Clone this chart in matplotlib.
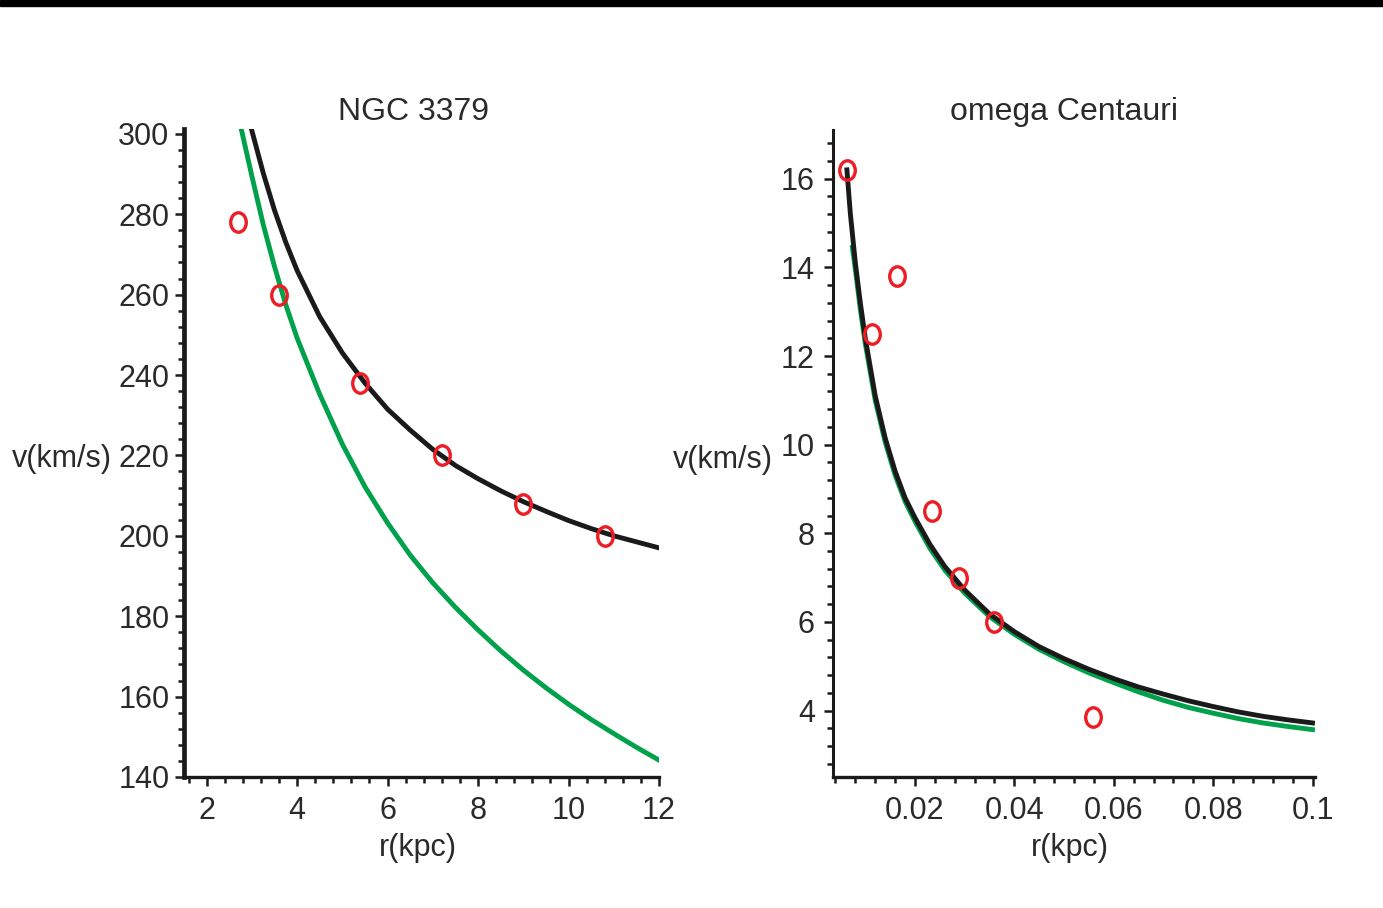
import matplotlib
matplotlib.use("Agg")
import matplotlib.pyplot as plt
from matplotlib.ticker import MultipleLocator, FuncFormatter
from matplotlib.path import Path
from matplotlib.transforms import Affine2D
from matplotlib.patches import Rectangle

plt.rcParams['font.family'] = ['Liberation Sans', 'DejaVu Sans']

# ---- NGC 3379 (left panel) ----
ngc_r_obs = [2.7, 3.6, 5.4, 7.2, 9.0, 10.8]
ngc_v_obs = [278, 260, 238, 220, 208, 200]

ngc_r_black = [3.0, 3.25, 3.5, 3.75, 4.0, 4.5, 5.0, 5.5, 6.0, 6.5, 7.0, 7.5,
               8.0, 8.5, 9.0, 9.5, 10.0, 10.5, 11.0, 11.5, 12.0]
ngc_v_black = [300.8, 290.3, 281, 273, 266, 254.5, 245.5, 238, 231.5, 226.3,
               221.5, 217.5, 214.2, 211.2, 208.5, 206.1, 203.8, 201.8, 200.0,
               198.5, 197.0]

ngc_r_green = [2.77, 3.0, 3.25, 3.5, 3.75, 4.0, 4.5, 5.0, 5.5, 6.0, 6.5, 7.0,
               7.5, 8.0, 8.5, 9.0, 9.5, 10.0, 10.5, 11.0, 11.5, 12.0]
ngc_v_green = [301, 289.5, 277.5, 267, 257.5, 249.2, 235.2, 222.8, 212.2, 203.2,
               195.2, 188.3, 182.2, 176.6, 171.4, 166.6, 162.2, 158.1, 154.3,
               150.8, 147.4, 144.2]

# ---- omega Centauri (right panel) ----
oc_r_obs = [0.0064, 0.0113, 0.0164, 0.0234, 0.0289, 0.0360, 0.0559]
oc_v_obs = [16.2, 12.5, 13.8, 8.5, 7.0, 6.0, 3.85]

oc_r_black = [0.0063, 0.007, 0.008, 0.009, 0.010, 0.012, 0.014, 0.016, 0.018,
              0.020, 0.023, 0.026, 0.030, 0.035, 0.040, 0.045, 0.050, 0.055,
              0.060, 0.065, 0.070, 0.075, 0.080, 0.085, 0.090, 0.095, 0.100]
oc_v_black = [16.2, 15.2, 14.1, 13.2, 12.4, 11.1, 10.15, 9.4, 8.8, 8.35, 7.75,
              7.25, 6.72, 6.18, 5.78, 5.44, 5.17, 4.93, 4.72, 4.53, 4.37, 4.22,
              4.09, 3.97, 3.87, 3.79, 3.72]

oc_r_green = [0.0074, 0.008, 0.009, 0.010, 0.012, 0.014, 0.016, 0.018, 0.020,
              0.023, 0.026, 0.030, 0.035, 0.040, 0.045, 0.050, 0.055, 0.060,
              0.065, 0.070, 0.075, 0.080, 0.085, 0.090, 0.095, 0.100]
oc_v_green = [14.45, 13.95, 13.05, 12.28, 11.0, 10.06, 9.31, 8.72, 8.27, 7.66,
              7.17, 6.65, 6.12, 5.72, 5.38, 5.1, 4.85, 4.63, 4.42, 4.23, 4.07,
              3.94, 3.82, 3.72, 3.64, 3.57]

BLACK = '#1a1a1a'
GREEN = '#00a14b'
RED = '#ee1c24'
TEXT = '#2a2a2a'
FS = 22

# slightly tall open circle, like the original markers
ellipse = Path.unit_circle().transformed(Affine2D().scale(0.8, 1.0))


def style_axes(ax, yspine_w, ypad):
    for s in ('top', 'right'):
        ax.spines[s].set_visible(False)
    ax.spines['left'].set_linewidth(yspine_w)
    ax.spines['bottom'].set_linewidth(2.4)
    ax.spines['left'].set_color(BLACK)
    ax.spines['bottom'].set_color(BLACK)
    ax.tick_params(which='major', direction='out', length=6.5, width=1.8,
                   color=BLACK, labelsize=FS, labelcolor=TEXT)
    ax.tick_params(which='minor', direction='out', length=4.5, width=1.8,
                   color=BLACK)
    ax.tick_params(axis='x', which='major', pad=7)
    ax.tick_params(axis='y', which='major', pad=ypad)


def draw_panel(ax, r_g, v_g, r_b, v_b, r_o, v_o):
    ax.plot(r_g, v_g, color=GREEN, lw=3.5, zorder=2)
    ax.plot(r_b, v_b, color=BLACK, lw=3.5, zorder=3)
    ax.plot(r_o, v_o, ls='none', marker=ellipse, ms=14, mfc='none',
            mec=RED, mew=2.4, zorder=4)


fig = plt.figure(figsize=(13.83, 9.08), dpi=100)
W, H = 1383, 908

# black bar along the top edge
fig.patches.append(Rectangle((0, 1 - 6 / H), 1, 6 / H, transform=fig.transFigure,
                             color='black', zorder=10))

ax1 = fig.add_axes([184 / W, 1 - 777 / H, (659 - 184) / W, (777 - 129) / H])
ax2 = fig.add_axes([833 / W, 1 - 777 / H, (1315 - 833) / W, (777 - 130) / H])

# left panel
draw_panel(ax1, ngc_r_green, ngc_v_green, ngc_r_black, ngc_v_black,
           ngc_r_obs, ngc_v_obs)
ax1.set_xlim(1.5, 12.0)
ax1.set_ylim(140, 301.2)
ax1.xaxis.set_major_locator(MultipleLocator(2))
ax1.xaxis.set_minor_locator(MultipleLocator(0.4))
ax1.yaxis.set_major_locator(MultipleLocator(20))
ax1.yaxis.set_minor_locator(MultipleLocator(4))
style_axes(ax1, 3.4, 4)
ax1.text(0.484, 1.014, 'NGC 3379', transform=ax1.transAxes, ha='center',
         va='baseline', fontsize=FS + 1, color=TEXT)
ax1.set_ylabel('v(km/s)', rotation=0, ha='right', va='center', fontsize=FS,
               color=TEXT)
ax1.yaxis.set_label_coords(-0.152, 0.49)
ax1.set_xlabel('r(kpc)', va='center', fontsize=FS, color=TEXT)
ax1.xaxis.set_label_coords(0.493, -0.109)

# right panel
draw_panel(ax2, oc_r_green, oc_v_green, oc_r_black, oc_v_black,
           oc_r_obs, oc_v_obs)
ax2.set_xlim(0.0035, 0.1005)
ax2.set_ylim(2.5, 17.1)
ax2.xaxis.set_major_locator(MultipleLocator(0.02))
ax2.xaxis.set_minor_locator(MultipleLocator(0.004))
ax2.xaxis.set_major_formatter(FuncFormatter(lambda x, p: f'{x:g}'))
ax2.yaxis.set_major_locator(MultipleLocator(2))
ax2.yaxis.set_minor_locator(MultipleLocator(0.4))
style_axes(ax2, 2.2, 6.5)
ax2.text(0.479, 1.015, 'omega Centauri', transform=ax2.transAxes, ha='center',
         va='baseline', fontsize=FS + 1, color=TEXT)
ax2.set_ylabel('v(km/s)', rotation=0, ha='right', va='center', fontsize=FS,
               color=TEXT)
ax2.yaxis.set_label_coords(-0.125, 0.49)
ax2.set_xlabel('r(kpc)', va='center', fontsize=FS, color=TEXT)
ax2.xaxis.set_label_coords(0.492, -0.109)

fig.savefig('out.png', dpi=100)
